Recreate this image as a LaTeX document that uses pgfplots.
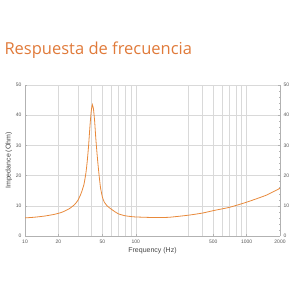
\documentclass[border=0pt]{standalone}
\usepackage{pgfplots}
\pgfplotsset{compat=1.18}
\usepackage{fontspec}
\setmainfont{Liberation Sans}
\newfontfamily\titlefont{Open Sans}
\definecolor{curve}{HTML}{E8893A}
\definecolor{ttl}{HTML}{E07A3A}
\definecolor{tlab}{HTML}{555555}
\begin{document}
\begin{tikzpicture}
\path[use as bounding box] (0pt,0pt) rectangle (300pt,300pt);
\node[anchor=west,text=ttl,font=\titlefont\fontsize{16.5}{18}\selectfont] at (1pt,250pt) {Respuesta de frecuencia};
\begin{axis}[
  at={(25pt,64pt)}, anchor=south west,
  scale only axis, width=255pt, height=151pt,
  xmode=log, xmin=10, xmax=2000, ymin=0, ymax=50,
  xtick={10,20,50,100,500,1000,2000},
  xticklabels={10,20,50,100,500,1000,2000},
  extra x ticks={30,40,60,70,80,90,300,400,600,700,800,900},
  extra x tick labels={},
  extra x tick style={grid=major, major tick length=0pt},
  minor xtick={},
  ytick={0,10,20,30,40,50},
  minor y tick num=4,
  ymajorgrids, xmajorgrids,
  grid style={gray!30, line width=0.5pt},
  axis line style={gray!60, line width=0.5pt},
  tick style={gray!60, line width=0.4pt},
  major tick length=2pt, minor tick length=1pt,
  xtick pos=bottom, ytick pos=left,
  tick label style={font=\fontsize{5}{6}\selectfont, text=tlab},
  /pgf/number format/assume math mode=true,
  xlabel={Frequency (Hz)},
  ylabel={Impedance (Ohm)},
  label style={font=\fontsize{7}{8}\selectfont, text=tlab!80!black},
  xlabel style={yshift=3pt},
  ylabel style={yshift=-3pt},
  axis x line*=bottom,
  axis y line*=left,
]
\addplot[curve, line width=0.8pt, smooth, tension=0.3] coordinates {
(10,6.0) (12,6.2) (15,6.6) (18,7.1) (20,7.5) (22,8.0) (25,9.0) (28,10.4)
(30,11.8) (32,14) (34,17) (35.5,21) (36.5,25) (37.5,30) (38.5,36) (39.5,41)
(40.5,43.5) (41.5,42) (42.5,38) (43.5,32.5) (44.5,28) (45.5,24) (46.5,20.5)
(48,16) (50,12.8) (52,11.2) (55,10.0) (58,9.3) (60,8.9) (65,8.0) (70,7.3)
(80,6.7) (90,6.45) (100,6.3) (150,6.1) (200,6.2) (300,6.9) (400,7.6)
(500,8.4) (700,9.5) (1000,11.2) (1500,13.5) (2000,15.8)
};
\end{axis}
\begin{axis}[
  at={(25pt,64pt)}, anchor=south west,
  scale only axis, width=255pt, height=151pt,
  xmode=log, xmin=10, xmax=2000, ymin=0, ymax=50,
  hide x axis,
  axis y line*=right,
  ytick={0,10,20,30,40,50},
  minor y tick num=4,
  axis line style={gray!60, line width=0.5pt},
  tick style={gray!60, line width=0.4pt},
  major tick length=2pt, minor tick length=1pt,
  tick label style={font=\fontsize{5}{6}\selectfont, text=tlab},
  /pgf/number format/assume math mode=true,
]
\end{axis}
\end{tikzpicture}
\end{document}
